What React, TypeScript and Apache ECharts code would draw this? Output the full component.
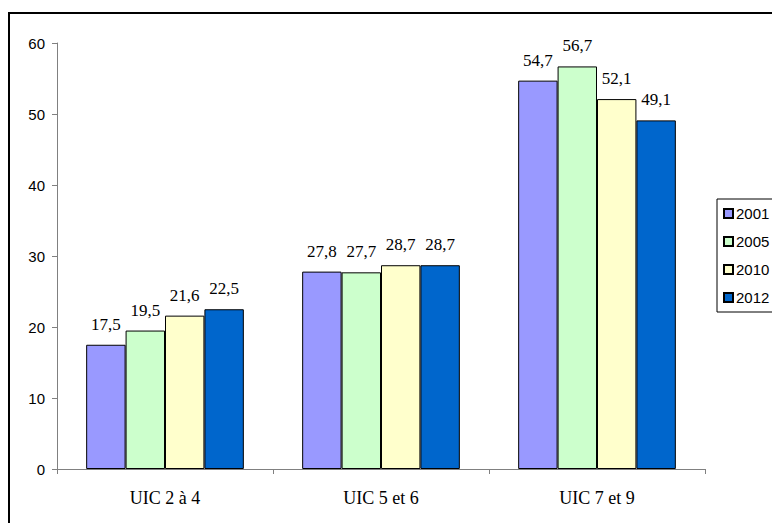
import React, { useEffect, useRef } from "react";
import * as echarts from "echarts";

const categories = ["UIC 2 à 4", "UIC 5 et 6", "UIC 7 et 9"];
const seriesNames = ["2001", "2005", "2010", "2012"];
const values2001 = [17.5, 27.8, 54.7];
const values2005 = [19.5, 27.7, 56.7];
const values2010 = [21.6, 28.7, 52.1];
const values2012 = [22.5, 28.7, 49.1];
const colors = ["#9999FF", "#CCFFCC", "#FFFFCC", "#0066CC"];
const yTicks = { min: 0, max: 60, interval: 10 };

export default function App() {
  const ref = useRef<HTMLDivElement>(null);
  useEffect(() => {
    if (!ref.current) return;
    const chart = echarts.init(ref.current, null, { renderer: "svg" });
    const all = [values2001, values2005, values2010, values2012];
    chart.setOption({
      animation: false,
      backgroundColor: "#ffffff",
      graphic: [
        {
          type: "rect",
          shape: { x: 9, y: 13, width: 900, height: 700 },
          style: { fill: "none", stroke: "#000000", lineWidth: 2 },
          silent: true,
          z: -1,
        },
      ],
      grid: { left: 57, right: 67, top: 43, bottom: 54 },
      legend: {
        orient: "vertical",
        left: 717,
        top: 199,
        padding: [7, 14, 7, 6],
        itemGap: 13,
        itemWidth: 9,
        itemHeight: 9,
        borderColor: "#000000",
        borderWidth: 1,
        icon: "rect",
        data: seriesNames,
        textStyle: { fontFamily: "Liberation Sans", fontSize: 15, color: "#000", padding: [0, 0, 0, -2] },
      },
      xAxis: {
        type: "category",
        data: categories,
        axisLine: { lineStyle: { color: "#808080", width: 1 } },
        axisTick: { show: true, alignWithLabel: false, length: 5, lineStyle: { color: "#808080" } },
        axisLabel: { fontFamily: "Liberation Serif", fontSize: 18, color: "#000", margin: 20 },
      },
      yAxis: {
        type: "value",
        min: yTicks.min,
        max: yTicks.max,
        interval: yTicks.interval,
        axisLine: { show: true, lineStyle: { color: "#808080", width: 1 } },
        axisTick: { show: true, length: 5, lineStyle: { color: "#808080" } },
        splitLine: { show: false },
        axisLabel: { fontFamily: "Liberation Sans", fontSize: 15, color: "#000", margin: 12 },
      },
      series: seriesNames.map((name, i) => ({
        name,
        type: "bar",
        data: all[i],
        barGap: "0%",
        barCategoryGap: "27%",
        itemStyle: { color: colors[i], borderColor: "#000000", borderWidth: 1 },
        label: {
          show: true,
          position: "top",
          distance: 12,
          fontFamily: "Liberation Serif",
          fontSize: 17,
          color: "#000",
          formatter: (p: any) => String(p.value).replace(".", ","),
        },
      })),
    });
    return () => chart.dispose();
  }, []);
  return (
    <div
      ref={ref}
      style={{ position: "fixed", left: 0, top: 0, width: 772, height: 523 }}
    />
  );
}
